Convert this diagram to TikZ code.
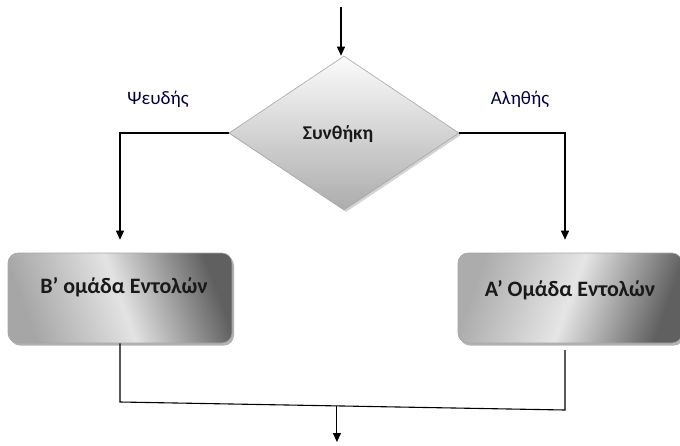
\documentclass[tikz,border=0pt]{standalone}
\usepackage{fontspec}
\setmainfont{Carlito}
\usetikzlibrary{shapes.geometric,arrows.meta,shadows,calc}
\tikzset{
  conn/.style={line width=1.1pt, black},
  arr/.style={conn, -{Triangle[width=8pt,length=9pt]}},
  cond/.style={diamond, draw=gray!70, line width=0.6pt, minimum width=230pt, minimum height=154pt, inner sep=0pt,
    top color=gray!3, bottom color=gray!65,
    drop shadow={shadow xshift=2pt, shadow yshift=-2pt, opacity=0.35, fill=gray}},
  stepbox/.style={rounded corners=10pt, draw=gray!70, line width=0.6pt, minimum width=224pt, minimum height=90pt, inner sep=0pt,
    drop shadow={shadow xshift=2pt, shadow yshift=-2.5pt, opacity=0.5, fill=gray!80!black}},
  boxtext/.style={font=\fontsize{22}{26}\selectfont\bfseries, text=black!90},
  condtext/.style={font=\fontsize{19.5}{23}\selectfont\bfseries, text=black!90},
  lbl/.style={font=\fontsize{19}{23}\selectfont, text=black!75!blue}
}
\begin{document}
\begin{tikzpicture}[x=1pt,y=-1pt]
\useasboundingbox (0,0) rectangle (680,445);
\node[cond] (c) at (344,133) {};
\node[condtext] (ctext) at ([xshift=-6pt,yshift=-1pt]c.center) {Συνθήκη};
\node[stepbox, left color=gray!70, right color=gray!75!black, middle color=gray!22, shading angle=110] (bbox) at (120,298) {};
\node[boxtext] (btext) at ([xshift=4pt,yshift=11pt]bbox.center) {Β’ ομάδα Εντολών};
\node[stepbox, left color=gray!65, right color=gray!75!black, middle color=gray!20, shading angle=70] (abox) at (570,298) {};
\node[boxtext] (atext) at ([yshift=8pt]abox.center) {Α’ Ομάδα Εντολών};
\node[lbl] (f) at (158,99) {Ψευδής};
\node[lbl] (t) at (520,99) {Αληθής};
\coordinate (start) at (341,7);
\draw[arr] (start) -- (start |- c.north);
\draw[arr, shorten >=13pt] (c.west) -| (bbox.north);
\draw[arr, shorten >=13pt] (c.east) -| ([xshift=-5pt]abox.north);
\coordinate (bl) at (120,402);
\coordinate (br) at (565,410);
\coordinate (ra) at (565,350);
\draw[conn] (bbox.south) -- (bl) -- (br) -- (ra);
\coordinate (j) at ($(bl)!0.4875!(br)$);
\coordinate (out) at (337,442);
\draw[arr] (j) -- (j |- out);
\end{tikzpicture}
\end{document}
